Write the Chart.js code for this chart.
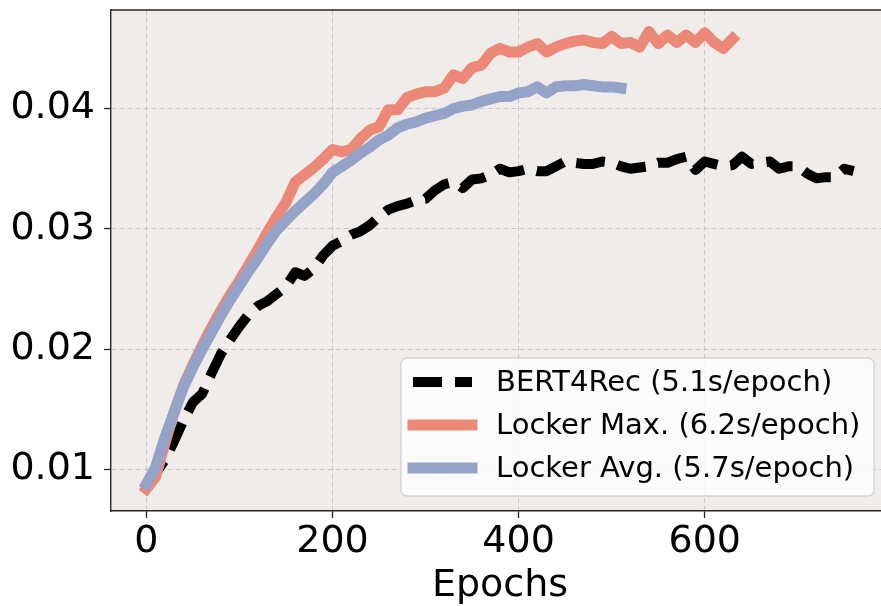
<!DOCTYPE html>
<html>
<head>
<meta charset="utf-8">
<script src="https://cdn.jsdelivr.net/npm/chart.js@4.4.0/dist/chart.umd.min.js"></script>
<style>
    html, body { margin: 0; padding: 0; background: #ffffff; overflow: hidden; }
    #wrap { width: 881px; height: 606px; overflow: hidden; }
</style>
</head>
<body>
<div id="wrap"><canvas id="chart" width="890" height="606"></canvas></div>
<script>
const epochs = [0, 10, 20, 30, 40, 50, 60, 70, 80, 90, 100, 110, 120, 130, 140, 150, 160, 170, 180, 190,
    200, 210, 220, 230, 240, 250, 260, 270, 280, 290, 300, 310, 320, 330, 340, 350, 360, 370, 380, 390,
    400, 410, 420, 430, 440, 450, 460, 470, 480, 490, 500, 510, 520, 530, 540, 550, 560, 570, 580, 590,
    600, 610, 620, 630, 640, 650, 660, 670, 680, 690, 700, 710, 720, 730, 740, 750, 760];

const bert4rec = [0.0088, 0.0097, 0.0108, 0.0124, 0.0141, 0.0156, 0.0163, 0.0180, 0.0196, 0.0208,
    0.0219, 0.0229, 0.0236, 0.0240, 0.0246, 0.0252, 0.0264, 0.0261, 0.0267, 0.0278,
    0.0286, 0.0290, 0.0295, 0.0298, 0.0303, 0.0310, 0.0316, 0.0319, 0.0321, 0.0324,
    0.0325, 0.0332, 0.0337, 0.0339, 0.0334, 0.0341, 0.0342, 0.0345, 0.0350, 0.0347,
    0.0348, 0.0350, 0.0348, 0.0348, 0.0352, 0.0356, 0.0355, 0.0354, 0.0354, 0.0356,
    0.0355, 0.0352, 0.0350, 0.0351, 0.0352, 0.0355, 0.0355, 0.0358, 0.0360, 0.0349,
    0.0356, 0.0354, 0.0352, 0.0353, 0.0360, 0.0354, 0.0355, 0.0356, 0.0350, 0.0352,
    0.0352, 0.0346, 0.0342, 0.0343, 0.0343, 0.0350, 0.0348];

const lockerMax = [0.0084, 0.0094, 0.0122, 0.0148, 0.0170, 0.0187, 0.0203, 0.0218, 0.0232, 0.0245,
    0.0257, 0.0270, 0.0283, 0.0297, 0.0310, 0.0322, 0.0339, 0.0345, 0.0351, 0.0358,
    0.0366, 0.0364, 0.0366, 0.0375, 0.0382, 0.0385, 0.0399, 0.0399, 0.0409, 0.0412,
    0.0414, 0.0414, 0.0417, 0.0428, 0.0425, 0.0434, 0.0436, 0.0446, 0.0450, 0.0447,
    0.0447, 0.0451, 0.0454, 0.0447, 0.0451, 0.0454, 0.0456, 0.0457, 0.0455, 0.0454,
    0.0460, 0.0454, 0.0455, 0.0451, 0.0464, 0.0454, 0.0461, 0.0455, 0.0461, 0.0455,
    0.0463, 0.0455, 0.0450, 0.0458];

const lockerAvg = [0.0088, 0.0102, 0.0127, 0.0148, 0.0169, 0.0185, 0.0200, 0.0214, 0.0228, 0.0241,
    0.0253, 0.0265, 0.0276, 0.0288, 0.0299, 0.0307, 0.0315, 0.0322, 0.0329, 0.0337,
    0.0347, 0.0352, 0.0357, 0.0363, 0.0368, 0.0374, 0.0378, 0.0384, 0.0387, 0.0389,
    0.0392, 0.0394, 0.0396, 0.0400, 0.0402, 0.0403, 0.0406, 0.0408, 0.0410, 0.0410,
    0.0413, 0.0414, 0.0418, 0.0413, 0.0418, 0.0419, 0.0419, 0.0420, 0.0419, 0.0418,
    0.0418, 0.0417];

const seriesLabels = ['BERT4Rec (5.1s/epoch)', 'Locker Max. (6.2s/epoch)', 'Locker Avg. (5.7s/epoch)'];
const xTicks = [0, 200, 400, 600];
const yTicks = [0.01, 0.02, 0.03, 0.04];

function toPoints(values) {
    return values.map((v, i) => ({ x: epochs[i], y: v }));
}

const FONT = "'DejaVu Sans', sans-serif";
const FRAME = '#262626';

// plot background, top frame line and the legend box
const framePlugin = {
    id: 'frame',
    beforeDraw(chart) {
        const { ctx, chartArea: a } = chart;
        ctx.save();
        ctx.fillStyle = '#f0ece9';
        ctx.fillRect(a.left, a.top, a.right - a.left, a.bottom - a.top);
        ctx.restore();
    },
    afterDraw(chart) {
        const { ctx, chartArea: a } = chart;
        ctx.save();
        ctx.strokeStyle = FRAME;
        ctx.lineWidth = 1.4;
        ctx.beginPath();
        ctx.moveTo(a.left, a.top);
        ctx.lineTo(a.right, a.top);
        ctx.lineTo(a.right, a.bottom);
        ctx.stroke();

        // legend
        const bx = 401, by = 358, bw = 473, bh = 138, r = 6;
        ctx.beginPath();
        ctx.roundRect(bx, by, bw, bh, r);
        ctx.fillStyle = 'rgba(255,255,255,0.8)';
        ctx.fill();
        ctx.strokeStyle = 'rgba(204,204,204,0.8)';
        ctx.lineWidth = 1.3;
        ctx.stroke();

        const rows = [382, 425, 468];
        chart.data.datasets.forEach((ds, i) => {
            const y = rows[i];
            ctx.beginPath();
            ctx.strokeStyle = ds.borderColor;
            ctx.lineWidth = ds.borderWidth;
            ctx.lineCap = ds.borderCapStyle;
            ctx.setLineDash(ds.borderDash || []);
            ctx.moveTo(413, y);
            ctx.lineTo(472, y);
            ctx.stroke();
            ctx.setLineDash([]);
            ctx.fillStyle = '#000000';
            ctx.font = '29px ' + FONT;
            ctx.textBaseline = 'middle';
            ctx.textAlign = 'left';
            ctx.fillText(ds.label, 496, y + 1);
        });
        ctx.restore();
    }
};

new Chart(document.getElementById('chart'), {
    type: 'line',
    data: {
        datasets: [{
            label: seriesLabels[0],
            data: toPoints(bert4rec),
            borderColor: '#000000',
            borderWidth: 10,
            borderDash: [29, 13],
            borderCapStyle: 'butt',
            borderJoinStyle: 'round',
            order: 3
        }, {
            label: seriesLabels[1],
            data: toPoints(lockerMax),
            borderColor: '#eb8877',
            borderWidth: 11,
            borderCapStyle: 'square',
            borderJoinStyle: 'round',
            order: 2
        }, {
            label: seriesLabels[2],
            data: toPoints(lockerAvg),
            borderColor: '#95a3c9',
            borderWidth: 11,
            borderCapStyle: 'square',
            borderJoinStyle: 'round',
            order: 1
        }]
    },
    options: {
        responsive: false,
        animation: false,
        devicePixelRatio: 1,
        events: [],
        elements: {
            point: { radius: 0 },
            line: { tension: 0, fill: false }
        },
        layout: { padding: { top: 10, right: 1, left: 0, bottom: 0 } },
        plugins: {
            legend: { display: false },
            tooltip: { enabled: false }
        },
        scales: {
            x: {
                type: 'linear',
                min: -38,
                max: 798,
                afterBuildTicks: scale => { scale.ticks = xTicks.map(v => ({ value: v })); },
                afterFit: scale => {
                    scale.height = 95;
                    scale.paddingLeft = 0;
                    scale.paddingRight = 0;
                },
                ticks: {
                    color: '#000000',
                    font: { family: FONT, size: 38 },
                    padding: 1,
                    maxRotation: 0,
                    callback: v => String(v)
                },
                grid: {
                    color: 'rgba(190,190,190,0.8)',
                    lineWidth: 1,
                    tickLength: 7,
                    tickColor: FRAME,
                    tickWidth: 1.3,
                    tickBorderDash: []
                },
                border: { display: true, color: FRAME, width: 1.4, dash: [5, 3] },
                title: {
                    display: true,
                    text: 'Epochs',
                    color: '#000000',
                    font: { family: FONT, size: 38, lineHeight: 1 },
                    padding: { top: 0, bottom: 1 }
                }
            },
            y: {
                type: 'linear',
                min: 0.00656,
                max: 0.04819,
                afterBuildTicks: scale => { scale.ticks = yTicks.map(v => ({ value: v })); },
                afterFit: scale => {
                    scale.width = 111;
                    scale.paddingTop = 0;
                    scale.paddingBottom = 0;
                },
                ticks: {
                    color: '#000000',
                    font: { family: FONT, size: 38 },
                    padding: 9,
                    callback: v => v.toFixed(2)
                },
                grid: {
                    color: 'rgba(190,190,190,0.8)',
                    lineWidth: 1,
                    tickLength: 7,
                    tickColor: FRAME,
                    tickWidth: 1.3,
                    tickBorderDash: []
                },
                border: { display: true, color: FRAME, width: 1.4, dash: [5, 3] }
            }
        }
    },
    plugins: [framePlugin]
});
</script>
</body>
</html>
